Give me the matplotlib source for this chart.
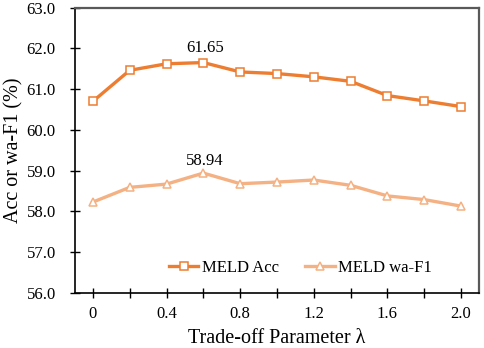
import matplotlib
matplotlib.use("Agg")
import matplotlib.pyplot as plt

lambdas = ["0", "0.2", "0.4", "0.6", "0.8", "1.0", "1.2", "1.4", "1.6", "1.8", "2.0"]
tick_labels = ["0", "", "0.4", "", "0.8", "", "1.2", "", "1.6", "", "2.0"]
acc = [60.70, 61.46, 61.62, 61.65, 61.42, 61.38, 61.30, 61.19, 60.84, 60.71, 60.57]
wf1 = [58.23, 58.59, 58.67, 58.94, 58.68, 58.72, 58.77, 58.64, 58.38, 58.29, 58.13]
yticks = [56.0, 57.0, 58.0, 59.0, 60.0, 61.0, 62.0, 63.0]

plt.rcParams['font.family'] = ['Liberation Serif', 'DejaVu Serif']

fig = plt.figure(figsize=(4.85, 3.48), dpi=100)
ax = fig.add_axes([74.5/485, 1 - 293/348, (479.5 - 74.5)/485, (293 - 7.5)/348])

x = list(range(len(lambdas)))
ax.plot(x, acc, color='#ED7D31', lw=2.4, marker='s', ms=5.8, mfc='white',
        mec='#ED7D31', mew=1.1, label='MELD Acc', zorder=3)
ax.plot(x, wf1, color='#F4B183', lw=2.4, marker='^', ms=6.3, mfc='white',
        mec='#F4B183', mew=1.1, label='MELD wa-F1', zorder=3)

i_acc = acc.index(max(acc))
ax.annotate(f"{acc[i_acc]:.2f}", (x[i_acc], acc[i_acc]), xytext=(1, 7.5),
            textcoords='offset points', ha='center', va='baseline', fontsize=12)
i_f1 = wf1.index(max(wf1))
ax.annotate(f"{wf1[i_f1]:.2f}", (x[i_f1], wf1[i_f1]), xytext=(1, 6),
            textcoords='offset points', ha='center', va='baseline', fontsize=12)

ax.set_xlim(-0.5, len(lambdas) - 0.5)
ax.set_ylim(56.0, 63.0)
ax.set_yticks(yticks)
ax.set_yticklabels([f"{v:.1f}" for v in yticks], fontsize=12)
ax.set_xticks(x)
ax.set_xticklabels(tick_labels, fontsize=12)
ax.tick_params(axis='both', direction='inout', length=7, width=1, color='black')
ax.tick_params(axis='y', pad=10)
ax.tick_params(axis='x', pad=6)

for s in ['left', 'bottom']:
    ax.spines[s].set_color('black')
    ax.spines[s].set_linewidth(1.2)
for s in ['top', 'right']:
    ax.spines[s].set_color('#595959')
    ax.spines[s].set_linewidth(1.6)

ax.set_xlabel("Trade-off Parameter λ", fontsize=14.5, labelpad=5)
ax.set_ylabel("Acc or wa-F1 (%)", fontsize=14.5, labelpad=2)

ax.legend(loc='center', bbox_to_anchor=(0.558, 0.088), ncol=2, frameon=False,
          fontsize=12, handlelength=1.75, columnspacing=1.6, handletextpad=0.2)

fig.savefig("out.png", dpi=100)
